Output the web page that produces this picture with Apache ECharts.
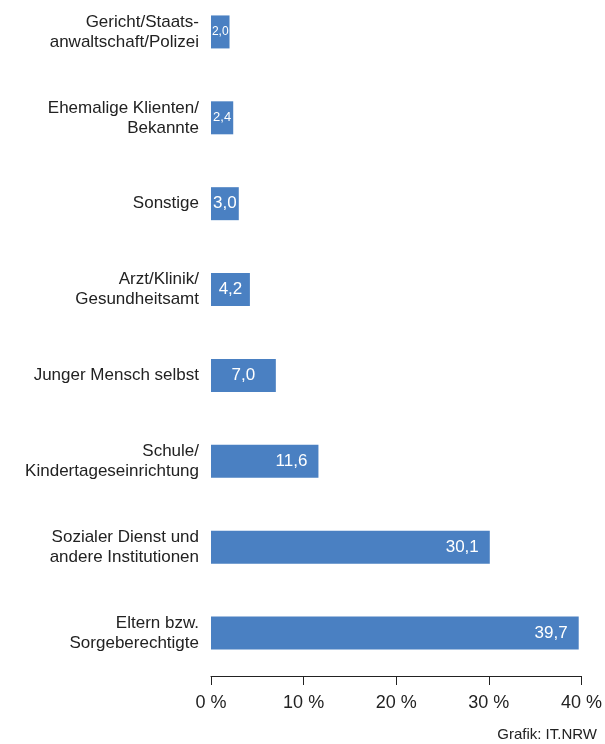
<!DOCTYPE html>
<html><head><meta charset="utf-8">
<script src="https://cdn.jsdelivr.net/npm/echarts@6/dist/echarts.min.js"></script>
<style>html,body{margin:0;padding:0;background:#fff;overflow:hidden}#c{position:absolute;left:0;top:-11px;width:605px;height:755px}</style>
</head><body><div id="c"></div>
<script>
const categories = [
  "Eltern bzw.\nSorgeberechtigte",
  "Sozialer Dienst und\nandere Institutionen",
  "Schule/\nKindertageseinrichtung",
  "Junger Mensch selbst",
  "Arzt/Klinik/\nGesundheitsamt",
  "Sonstige",
  "Ehemalige Klienten/\nBekannte",
  "Gericht/Staats-\nanwaltschaft/Polizei"
];
const values = [39.7, 30.1, 11.6, 7.0, 4.2, 3.0, 2.4, 2.0];
const tickValues = [0, 10, 20, 30, 40];

const chart = echarts.init(document.getElementById('c'), null, {renderer: 'canvas'});
const fontFam = '"Liberation Sans", Arial, sans-serif';
const data = values.map(v => {
  let lbl;
  if (v < 2.2) lbl = {position: 'inside', fontSize: 12};
  else if (v < 3) lbl = {position: 'inside', fontSize: 13};
  else if (v < 8) lbl = {position: 'inside', fontSize: 17};
  else lbl = {position: 'insideRight', distance: 11, fontSize: 17};
  return {value: v, label: lbl};
});
chart.setOption({
  animation: false,
  grid: {left: 211, right: 22, top: 0, bottom: 68},
  xAxis: {
    type: 'value', min: tickValues[0], max: tickValues[tickValues.length - 1], interval: 10,
    axisLine: {show: true, lineStyle: {color: '#222', width: 1}},
    axisTick: {show: true, length: 9, lineStyle: {color: '#222'}},
    splitLine: {show: false},
    axisLabel: {color: '#222', fontSize: 18, fontFamily: fontFam, margin: 18,
      formatter: v => v + ' %'}
  },
  yAxis: {
    type: 'category', data: categories,
    axisLine: {show: false}, axisTick: {show: false},
    axisLabel: {color: '#222', fontSize: 17, fontFamily: fontFam, margin: 12, lineHeight: 20, align: 'right'}
  },
  series: [{
    type: 'bar', data: data, barWidth: 33,
    itemStyle: {color: '#4a80c2'},
    label: {show: true, color: '#fff', fontFamily: fontFam,
      formatter: p => p.value.toFixed(1).replace('.', ',')}
  }],
  graphic: [{
    type: 'text', right: 8, top: 738,
    style: {text: 'Grafik: IT.NRW', fill: '#222', font: '15px ' + fontFam}
  }]
});
</script></body></html>
